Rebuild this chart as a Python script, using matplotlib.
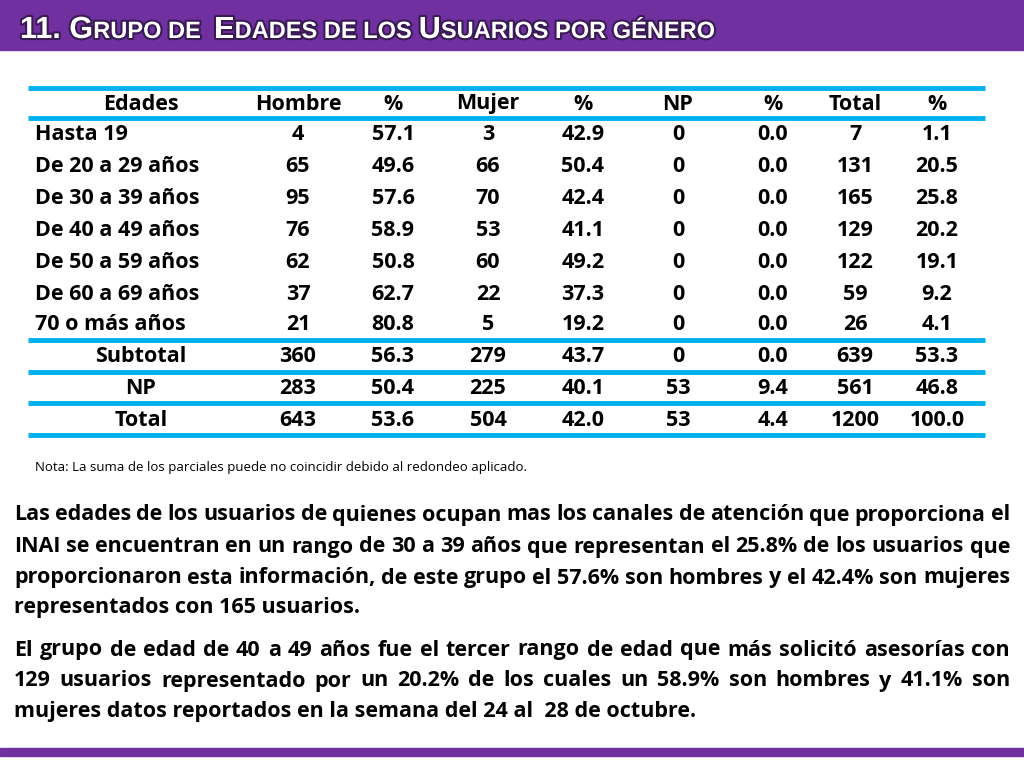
import matplotlib
matplotlib.use("Agg")
import matplotlib.pyplot as plt
import matplotlib.patheffects as pe

# table data
headers = ["Edades", "Hombre", "%", "Mujer", "%", "NP", "%", "Total", "%"]
ages = ["Hasta 19", "De 20 a 29 años", "De 30 a 39 años", "De 40 a 49 años",
        "De 50 a 59 años", "De 60 a 69 años", "70 o más años"]
hombre = [4, 65, 95, 76, 62, 37, 21]
hombre_pct = [57.1, 49.6, 57.6, 58.9, 50.8, 62.7, 80.8]
mujer = [3, 66, 70, 53, 60, 22, 5]
mujer_pct = [42.9, 50.4, 42.4, 41.1, 49.2, 37.3, 19.2]
np_cnt = [0, 0, 0, 0, 0, 0, 0]
np_pct = [0.0, 0.0, 0.0, 0.0, 0.0, 0.0, 0.0]
total = [7, 131, 165, 129, 122, 59, 26]
total_pct = [1.1, 20.5, 25.8, 20.2, 19.1, 9.2, 4.1]
summary_labels = ["Subtotal", "NP", "Total"]
summary_rows = [
    [360, 56.3, 279, 43.7, 0, 0.0, 639, 53.3],
    [283, 50.4, 225, 40.1, 53, 9.4, 561, 46.8],
    [643, 53.6, 504, 42.0, 53, 4.4, 1200, 100.0],
]

para1 = ["Las edades de los usuarios de quienes ocupan mas los canales de atención que proporciona el",
         "INAI se encuentran en un rango de 30 a 39 años que representan el 25.8% de los usuarios que",
         "proporcionaron esta información, de este grupo el 57.6% son hombres y el 42.4% son mujeres",
         "representados con 165 usuarios."]
para2 = ["El grupo de edad de 40 a 49 años fue el tercer rango de edad que más solicitó asesorías con",
         "129 usuarios representado por un 20.2% de los cuales un 58.9%  son hombres y 41.1% son",
         "mujeres datos reportados en la semana del 24 al  28 de octubre."]

PURPLE = "#7030A0"
CYAN = "#00B0F0"
FONT = "Open Sans"

fig = plt.figure(figsize=(10.24, 7.68), dpi=100)
ax = fig.add_axes([0, 0, 1, 1])
ax.set_xlim(0, 1024)
ax.set_ylim(768, 0)
ax.axis("off")

# title bar
ax.add_patch(plt.Rectangle((0, 0), 1024, 50, color=PURPLE))
ax.add_patch(plt.Rectangle((0, 748), 1024, 8, color=PURPLE))
fig.canvas.draw()
renderer = fig.canvas.get_renderer()
stroke = [pe.withStroke(linewidth=3, foreground="#3a1a55")]
pieces = [("11. G", 22), ("RUPO DE  ", 17), ("E", 22), ("DADES DE LOS ", 17),
          ("U", 22), ("SUARIOS POR GÉNERO", 17)]
x = 20
for txt, fs in pieces:
    t = ax.text(x, 38, txt, fontsize=fs, color="white", fontweight="bold",
                family="Liberation Sans", va="baseline", path_effects=stroke)
    bb = t.get_window_extent(renderer)
    x += bb.width

# table lines
for y in [88, 118, 340, 372, 403, 435]:
    ax.plot([28, 985], [y, y], color=CYAN, lw=3.5, solid_capstyle="butt")

col_x = [141, 298, 393, 488, 583, 678, 773, 855, 937]
tkw = dict(fontsize=15.5, fontweight="bold", family=FONT, color="black", va="center")
for cx, h in zip(col_x, headers):
    ax.text(cx, 104, h, ha="center", **tkw)

row_y = [135, 167, 198, 230, 262, 294, 325]
for i, y in enumerate(row_y):
    ax.text(35, y, ages[i], ha="left", **tkw)
    vals = [hombre[i], f"{hombre_pct[i]:.1f}", mujer[i], f"{mujer_pct[i]:.1f}",
            np_cnt[i], f"{np_pct[i]:.1f}", total[i], f"{total_pct[i]:.1f}"]
    for cx, v in zip(col_x[1:], vals):
        ax.text(cx, y, str(v), ha="center", **tkw)

for lab, row, y in zip(summary_labels, summary_rows, [356, 388, 420]):
    ax.text(col_x[0], y, lab, ha="center", **tkw)
    for j, (cx, v) in enumerate(zip(col_x[1:], row)):
        s = f"{v:.1f}" if j % 2 == 1 else str(v)
        ax.text(cx, y, s, ha="center", **tkw)

ax.text(35, 467, "Nota: La suma de los parciales puede no coincidir debido al redondeo aplicado.",
        fontsize=9.5, family=FONT, va="center", color="black")

# justified paragraphs
pkw = dict(fontsize=15.5, fontweight="bold", family=FONT, color="black", va="center")
left, right = 14, 1010


def draw_line(text, y, justify):
    words = text.split()
    if not justify:
        ax.text(left, y, text, ha="left", **pkw)
        return
    arts = [ax.text(0, y, w, ha="left", **pkw) for w in words]
    widths = [a.get_window_extent(renderer).width for a in arts]
    gap = (right - left - sum(widths)) / (len(words) - 1)
    xx = left
    for a, w in zip(arts, widths):
        a.set_x(xx)
        xx += w + gap


for lines, ys in [(para1, [515, 547, 578, 608]), (para2, [650, 681, 712])]:
    for k, (ln, y) in enumerate(zip(lines, ys)):
        draw_line(ln, y, k < len(lines) - 1)

fig.savefig("out.png", dpi=100)
